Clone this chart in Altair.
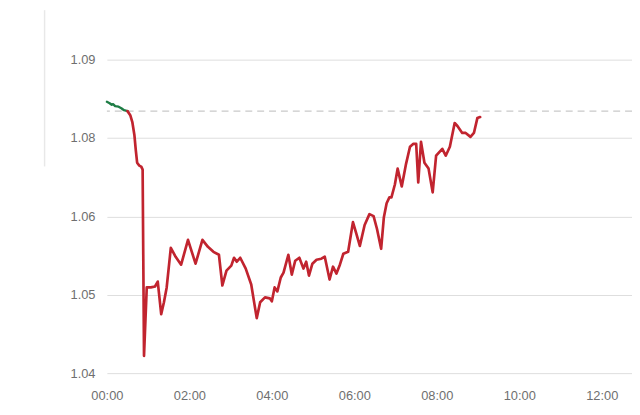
import altair as alt
import pandas as pd

# ---- data ----
TIMES = ["00:00", "00:04", "00:07", "00:09", "00:12", "00:17", "00:21", "00:25", "00:30",
         "00:34", "00:37", "00:40", "00:42", "00:44", "00:47", "00:50", "00:52", "00:54",
         "00:58", "01:04", "01:10", "01:14", "01:19", "01:23", "01:27", "01:33", "01:40",
         "01:48", "01:58", "02:09", "02:19", "02:27", "02:35", "02:43", "02:48", "02:54",
         "03:01", "03:05", "03:09", "03:14", "03:22", "03:30", "03:38", "03:43", "03:50",
         "03:57", "04:00", "04:04", "04:08", "04:13", "04:17", "04:24", "04:29", "04:34",
         "04:40", "04:46", "04:50", "04:54", "04:59", "05:05", "05:12", "05:17", "05:24",
         "05:29", "05:34", "05:39", "05:44", "05:51", "05:58", "06:03", "06:08", "06:15",
         "06:22", "06:28", "06:33", "06:39", "06:43", "06:47", "06:51", "06:54", "06:59",
         "07:03", "07:09", "07:15", "07:21", "07:26", "07:30", "07:33", "07:37", "07:42",
         "07:48", "07:54", "07:59", "08:08", "08:13", "08:19", "08:26", "08:30", "08:37",
         "08:42", "08:49", "08:54", "08:59", "09:03"]
PRICES = [1.08329, 1.08305, 1.08281, 1.08289, 1.08258, 1.08250, 1.08226, 1.08194, 1.08179,
          1.08115, 1.08005, 1.07799, 1.07562, 1.07357, 1.07310, 1.07294, 1.07246, 1.04276,
          1.05367, 1.05367, 1.05382, 1.05461, 1.04940, 1.05130, 1.05367, 1.05998, 1.05856,
          1.05730, 1.06125, 1.05746, 1.06125, 1.06014, 1.05935, 1.05888, 1.05398, 1.05635,
          1.05714, 1.05840, 1.05777, 1.05840, 1.05667, 1.05414, 1.04877, 1.05130, 1.05209,
          1.05193, 1.05145, 1.05367, 1.05303, 1.05525, 1.05604, 1.05888, 1.05572, 1.05793,
          1.05840, 1.05667, 1.05777, 1.05556, 1.05745, 1.05809, 1.05825, 1.05856, 1.05493,
          1.05698, 1.05588, 1.05730, 1.05904, 1.05935, 1.06409, 1.06220, 1.06030, 1.06362,
          1.06536, 1.06504, 1.06299, 1.05983, 1.06488, 1.06709, 1.06804, 1.06804, 1.07009,
          1.07262, 1.06978, 1.07325, 1.07610, 1.07657, 1.07657, 1.07041, 1.07689, 1.07357,
          1.07262, 1.06883, 1.07468, 1.07578, 1.07468, 1.07610, 1.07989, 1.07942, 1.07831,
          1.07831, 1.07768, 1.07831, 1.08068, 1.08084]
PREV_CLOSE = 1.08179

X_TICK_MINUTES = [0, 120, 240, 360, 480, 600, 720]
X_TICK_LABELS = ["00:00", "02:00", "04:00", "06:00", "08:00", "10:00", "12:00"]
Y_TICK_VALUES = [1.04, 1.0525, 1.065, 1.0775, 1.09]
Y_TICK_LABELS = ["1.04", "1.05", "1.06", "1.08", "1.09"]

# ---- build table ----
mins = [int(t[:2]) * 60 + int(t[3:]) for t in TIMES]
df = pd.DataFrame({"minute": mins, "price": PRICES})
cross = next(i for i, p in enumerate(PRICES) if p <= PREV_CLOSE)
up = df.iloc[: cross + 1].copy()
up["seg"] = "up"
down = df.iloc[cross:].copy()
down["seg"] = "down"
data = pd.concat([up, down], ignore_index=True)

x_expr = "[" + ",".join("'%s'" % s for s in X_TICK_LABELS) + "][indexof([" + \
    ",".join(str(v) for v in X_TICK_MINUTES) + "], datum.value)]"
y_expr = "[" + ",".join("'%s'" % s for s in Y_TICK_LABELS) + "][indexof([" + \
    ",".join(repr(v) for v in Y_TICK_VALUES) + "], datum.value)]"

x_enc = alt.X("minute:Q",
              scale=alt.Scale(domain=[0, 764], nice=False, zero=False),
              axis=alt.Axis(values=X_TICK_MINUTES, labelExpr=x_expr, grid=False,
                            domain=False, ticks=False, labelPadding=17,
                            labelFlush=False, labelOverlap=False,
                            labelFontSize=13, labelColor="#6f6f6f",
                            labelFont="Liberation Sans", title=None))
y_enc = alt.Y("price:Q",
              scale=alt.Scale(domain=[1.04, 1.09], nice=False, zero=False),
              axis=alt.Axis(values=Y_TICK_VALUES, labelExpr=y_expr, grid=True,
                            gridColor="#dedede", gridWidth=1,
                            domain=False, ticks=False, labelPadding=12,
                            labelFlush=False,
                            labelFontSize=13, labelColor="#6f6f6f",
                            labelFont="Liberation Sans", title=None))

lines = alt.Chart(data).mark_line(strokeJoin="round", strokeCap="round").encode(
    x=x_enc,
    y=y_enc,
    detail="seg:N",
    color=alt.Color("seg:N", scale=alt.Scale(domain=["up", "down"],
                                             range=["#1e7d45", "#c1242f"]),
                    legend=None),
    strokeWidth=alt.StrokeWidth("seg:N", scale=alt.Scale(domain=["up", "down"],
                                                         range=[2.4, 2.7]),
                                legend=None),
    order="minute:Q",
)

prev = alt.Chart(pd.DataFrame({"price": [PREV_CLOSE]})).mark_rule(
    color="#c9c9c9", strokeDash=[7, 5], strokeWidth=1.5
).encode(y=alt.Y("price:Q"))

border = alt.Chart(pd.DataFrame({"a": [0]})).mark_rule(
    color="#e8e8e8", strokeWidth=1.5
).encode(x=alt.value(-63), y=alt.value(-50), y2=alt.value(108))

chart = alt.layer(prev, lines, border).properties(
    width=531, height=317,
    padding={"left": 100, "top": 50, "right": 0, "bottom": 30},
    autosize=alt.AutoSizeParams(type="none"),
    background="white",
).configure_view(stroke=None)

chart.save("out.html", embed_options={"renderer": "svg", "actions": False})
